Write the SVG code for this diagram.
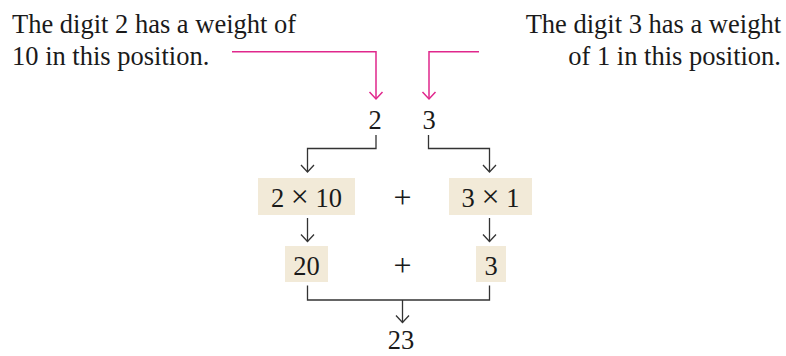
<svg xmlns="http://www.w3.org/2000/svg" width="786" height="356" viewBox="0 0 786 356">
<defs>
<style>
text{font-family:"Liberation Serif","Times New Roman",serif;font-size:26.5px;fill:#1a1a1a}
.c{text-anchor:middle}
.r{text-anchor:end}
.op{font-size:32px}
.box{fill:#f2ead8}
.k{fill:none;stroke:#333;stroke-width:1.3}
.p{fill:none;stroke:#e0278c;stroke-width:1.5}
</style>
<marker id="ak" viewBox="-8 -8 16 16" markerUnits="userSpaceOnUse" markerWidth="16" markerHeight="16" refX="0" refY="0" orient="auto">
<path d="M-7,-6.5 L0,0 L-7,6.5" fill="none" stroke="#333" stroke-width="1.3"/>
</marker>
<marker id="ap" viewBox="-8 -8 16 16" markerUnits="userSpaceOnUse" markerWidth="16" markerHeight="16" refX="0" refY="0" orient="auto">
<path d="M-7,-6.5 L0,0 L-7,6.5" fill="none" stroke="#e0278c" stroke-width="1.5"/>
</marker>
</defs>
<rect width="786" height="356" fill="#fff"/>
<g id="note-left">
<text x="12" y="33">The digit 2 has a weight of</text>
<text x="12" y="65">10 in this position.</text>
</g>
<g id="note-right">
<text class="r" x="781" y="33">The digit 3 has a weight</text>
<text class="r" x="781" y="65">of 1 in this position.</text>
</g>
<g id="digit2"><text class="c" x="375" y="129">2</text></g>
<g id="digit3"><text class="c" x="429" y="129">3</text></g>
<g id="prod-left">
<rect class="box" x="258" y="178" width="97" height="37"/>
<text class="c" x="306.5" y="207">2 <tspan class="op">×</tspan> 10</text>
</g>
<g id="plus1"><text class="c op" x="402.5" y="208">+</text></g>
<g id="prod-right">
<rect class="box" x="449" y="178" width="83" height="37"/>
<text class="c" x="490.5" y="207">3 <tspan class="op">×</tspan> 1</text>
</g>
<g id="val-left">
<rect class="box" x="285" y="246" width="43" height="36"/>
<text class="c" x="306.5" y="275">20</text>
</g>
<g id="plus2"><text class="c op" x="402.5" y="276">+</text></g>
<g id="val-right">
<rect class="box" x="476" y="246" width="30" height="36"/>
<text class="c" x="491" y="275">3</text>
</g>
<g id="result"><text class="c" x="401" y="349">23</text></g>
<g id="connectors">
<path class="p" d="M232,51.7 H376 V99" marker-end="url(#ap)"/>
<path class="p" d="M479,51.7 H429 V99" marker-end="url(#ap)"/>
<path class="k" d="M376,135 V148.5 H307.5 V172" marker-end="url(#ak)"/>
<path class="k" d="M428.5,135 V148.5 H489.5 V172" marker-end="url(#ak)"/>
<path class="k" d="M307.5,218 V241.5" marker-end="url(#ak)"/>
<path class="k" d="M489.5,218 V241.5" marker-end="url(#ak)"/>
<path class="k" d="M307.5,285.5 V300 H489.5 V285.5"/>
<path class="k" d="M402.5,300 V322.5" marker-end="url(#ak)"/>
</g>
</svg>
